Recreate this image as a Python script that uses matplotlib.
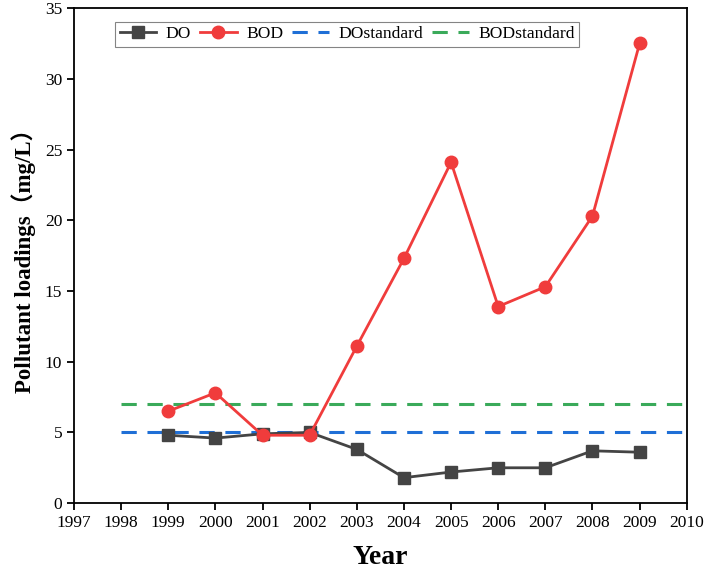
import matplotlib
matplotlib.use("Agg")
import matplotlib.pyplot as plt

years = [1999, 2000, 2001, 2002, 2003, 2004, 2005, 2006, 2007, 2008, 2009]
do_vals = [4.8, 4.6, 4.9, 5.0, 3.8, 1.8, 2.2, 2.5, 2.5, 3.7, 3.6]
bod_vals = [6.5, 7.8, 4.8, 4.8, 11.1, 17.3, 24.1, 13.9, 15.3, 20.3, 32.5]
std_years = [1998, 2010]
do_std = 5
bod_std = 7
xticks = list(range(1997, 2011))
yticks = [0, 5, 10, 15, 20, 25, 30, 35]

tick_font = ['Liberation Serif', 'DejaVu Serif']
label_font = ['Liberation Serif', 'Noto Sans CJK SC']

fig = plt.figure(figsize=(7.08, 5.77), dpi=100)
ax = fig.add_axes([0.1045, 0.128, 0.8655, 0.858])

ax.plot(std_years, [do_std, do_std], color='#1f6fd6', lw=2.2, dashes=(5, 3.5), label='DOstandard', zorder=2)
ax.plot(std_years, [bod_std, bod_std], color='#3aaa5a', lw=2.2, dashes=(5, 3.5), label='BODstandard', zorder=2)
ax.plot(years, do_vals, color='#444444', lw=2, marker='s', ms=8, label='DO', zorder=3)
ax.plot(years, bod_vals, color='#f03c3c', lw=2, marker='o', ms=9, label='BOD', zorder=4)

ax.set_xlim(1997, 2010)
ax.set_ylim(0, 35)
ax.set_xticks(xticks)
ax.set_yticks(yticks)
ax.tick_params(direction='out', length=5, width=1.3, labelsize=12.5)
for lab in ax.get_xticklabels() + ax.get_yticklabels():
    lab.set_family(tick_font)
for sp in ax.spines.values():
    sp.set_linewidth(1.3)

ax.set_xlabel('Year', fontsize=20, fontweight='bold', family=label_font, labelpad=10)
ax.set_ylabel('Pollutant loadings（mg/L）', fontsize=16.5, fontweight='bold', family=label_font, labelpad=6)

handles, labels = ax.get_legend_handles_labels()
order = [2, 3, 0, 1]
leg = ax.legend([handles[i] for i in order], [labels[i] for i in order], loc='upper left',
                ncol=4, bbox_to_anchor=(0.053, 0.99), frameon=True, fancybox=False,
                edgecolor='#666666', prop={'family': tick_font, 'size': 12.6},
                handlelength=2.1, columnspacing=0.5, handletextpad=0.55, borderpad=0.25)
leg.get_frame().set_linewidth(0.8)

fig.savefig('out.png', dpi=100)
